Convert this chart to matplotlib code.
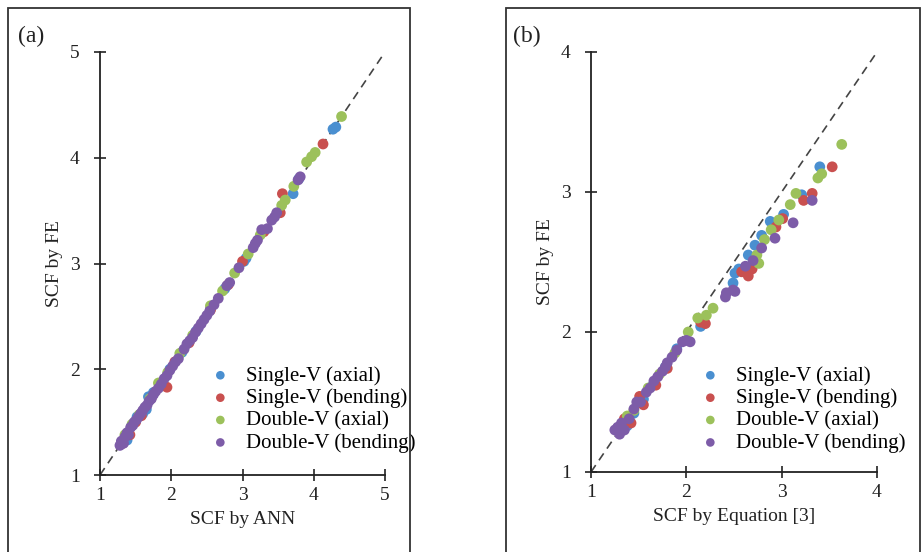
import matplotlib
matplotlib.use("Agg")
import matplotlib.pyplot as plt
from matplotlib.patches import Rectangle

plt.rcParams['font.family'] = ['Liberation Serif', 'DejaVu Serif']

series_names = ["Single-V (axial)", "Single-V (bending)", "Double-V (axial)", "Double-V (bending)"]
series_colors = ["#4a8fd0", "#c9504f", "#9cc15b", "#7d5ca8"]

# Panel (a): SCF by ANN (x) vs SCF by FE (y)
a_sv_axial_x = [1.30, 1.38, 1.45, 1.52, 1.60, 1.65, 1.68, 1.75, 1.85, 1.98, 2.15, 2.35, 2.55, 2.75, 3.02, 3.05, 3.71, 3.79, 4.27, 4.31]
a_sv_axial_y = [1.31, 1.33, 1.47, 1.55, 1.58, 1.62, 1.74, 1.78, 1.86, 2.00, 2.16, 2.36, 2.57, 2.76, 3.02, 3.05, 3.66, 3.80, 4.27, 4.29]
a_sv_bend_x = [1.32, 1.42, 1.50, 1.58, 1.72, 1.94, 2.05, 2.25, 2.55, 2.80, 3.00, 3.30, 3.53, 3.56, 4.13]
a_sv_bend_y = [1.30, 1.38, 1.50, 1.56, 1.73, 1.83, 2.07, 2.25, 2.56, 2.80, 3.02, 3.30, 3.48, 3.66, 4.13]
a_dv_axial_x = [1.35, 1.45, 1.55, 1.70, 1.82, 1.95, 2.12, 2.30, 2.55, 2.72, 2.89, 3.08, 3.25, 3.55, 3.60, 3.72, 3.90, 3.97, 4.02, 4.39]
a_dv_axial_y = [1.38, 1.48, 1.57, 1.72, 1.87, 1.97, 2.15, 2.32, 2.60, 2.74, 2.91, 3.09, 3.27, 3.55, 3.60, 3.73, 3.96, 4.01, 4.05, 4.39]
a_dv_bend_x = [1.28, 1.30, 1.33, 1.35, 1.38, 1.40, 1.43, 1.46, 1.48, 1.51, 1.54, 1.57, 1.60, 1.63, 1.66, 1.69, 1.72, 1.75,
               1.78, 1.82, 1.86, 1.90, 1.94, 1.98, 2.02, 2.06, 2.10, 2.18, 2.22, 2.26, 2.30, 2.34, 2.38, 2.42, 2.46, 2.50,
               2.54, 2.60, 2.66, 2.78, 2.82, 2.95, 3.15, 3.18, 3.21, 3.27, 3.35, 3.41, 3.45, 3.48, 3.78, 3.81]
a_dv_bend_y = [1.28, 1.32, 1.30, 1.36, 1.40, 1.38, 1.45, 1.47, 1.50, 1.52, 1.55, 1.58, 1.61, 1.64, 1.66, 1.70, 1.72, 1.76,
               1.79, 1.82, 1.86, 1.91, 1.94, 1.99, 2.03, 2.07, 2.10, 2.19, 2.24, 2.27, 2.30, 2.35, 2.39, 2.43, 2.47, 2.51,
               2.55, 2.61, 2.67, 2.79, 2.82, 2.96, 3.15, 3.19, 3.22, 3.32, 3.33, 3.41, 3.44, 3.48, 3.79, 3.82]

# Panel (b): SCF by Equation [3] (x) vs SCF by FE (y)
b_sv_axial_x = [1.30, 1.38, 1.45, 1.55, 1.65, 1.78, 1.90, 2.15, 2.49, 2.51, 2.55, 2.65, 2.72, 2.79, 2.88, 3.02, 3.21, 3.40]
b_sv_axial_y = [1.30, 1.33, 1.42, 1.52, 1.62, 1.75, 1.88, 2.04, 2.35, 2.42, 2.45, 2.55, 2.62, 2.69, 2.79, 2.84, 2.98, 3.18]
b_sv_bend_x = [1.35, 1.42, 1.51, 1.55, 1.68, 1.80, 2.15, 2.20, 2.58, 2.65, 2.69, 2.94, 3.01, 3.23, 3.32, 3.53]
b_sv_bend_y = [1.38, 1.35, 1.54, 1.48, 1.62, 1.74, 2.07, 2.06, 2.43, 2.40, 2.45, 2.75, 2.81, 2.94, 2.99, 3.18]
b_dv_axial_x = [1.38, 1.45, 1.60, 1.72, 1.88, 2.02, 2.12, 2.21, 2.28, 2.74, 2.76, 2.82, 2.89, 2.97, 3.09, 3.15, 3.38, 3.42, 3.63]
b_dv_axial_y = [1.40, 1.44, 1.60, 1.70, 1.85, 2.00, 2.10, 2.12, 2.17, 2.55, 2.49, 2.66, 2.73, 2.80, 2.91, 2.99, 3.10, 3.13, 3.34]
b_dv_bend_x = [1.25, 1.28, 1.30, 1.32, 1.35, 1.40, 1.45, 1.48, 1.52, 1.58, 1.62, 1.66, 1.70, 1.75, 1.78, 1.80, 1.85, 1.90,
               1.96, 2.00, 2.04, 2.41, 2.42, 2.49, 2.51, 2.62, 2.70, 2.79, 2.93, 3.12, 3.32]
b_dv_bend_y = [1.30, 1.32, 1.27, 1.35, 1.30, 1.38, 1.45, 1.50, 1.50, 1.57, 1.60, 1.65, 1.68, 1.72, 1.75, 1.78, 1.82, 1.87,
               1.93, 1.94, 1.93, 2.25, 2.28, 2.30, 2.29, 2.47, 2.51, 2.60, 2.67, 2.78, 2.94]

a_ticks = [1, 2, 3, 4, 5]
b_ticks = [1, 2, 3, 4]

W, H = 924, 552
fig = plt.figure(figsize=(9.24, 5.52), dpi=100)

def fx(px):
    return px / W

def fy(py):
    return 1 - py / H

# panel frames
for (l, r) in [(8, 410), (506, 920)]:
    fig.patches.append(Rectangle((fx(l), fy(H + 10)), fx(r) - fx(l), fy(8) - fy(H + 10),
                                 transform=fig.transFigure, fill=False, edgecolor="#333333", lw=1.3))

def make_panel(l, r, b, t, data, ticks, xlabel, tag, tag_xy, leg_xy):
    ax = fig.add_axes([fx(l), fy(b), fx(r) - fx(l), fy(t) - fy(b)])
    lo, hi = ticks[0], ticks[-1]
    ax.plot([lo, hi], [lo, hi], linestyle=(0, (5, 3.5)), color="#444444", lw=1.2, zorder=1)
    for (xs, ys), name, c in zip(data, series_names, series_colors):
        ax.scatter(xs, ys, s=60, color=c, edgecolors="none", label=name, zorder=2)
    ax.set_xlim(lo, hi)
    ax.set_ylim(lo, hi)
    ax.set_xticks(ticks)
    ax.set_yticks(ticks)
    ax.spines['top'].set_visible(False)
    ax.spines['right'].set_visible(False)
    for s in ['left', 'bottom']:
        ax.spines[s].set_linewidth(1.3)
        ax.spines[s].set_color("#222222")
    ax.tick_params(direction='inout', length=9, width=1.2, labelsize=14, colors="#222222")
    ax.tick_params(axis='x', pad=4)
    ax.tick_params(axis='y', pad=10)
    ax.set_xlabel(xlabel, fontsize=14, labelpad=5, color="#222222")
    ax.set_ylabel("SCF by FE", fontsize=14, labelpad=5, color="#222222")
    ax.patch.set_alpha(0)
    fig.text(fx(tag_xy[0]), fy(tag_xy[1]), tag, fontsize=17, ha='left', va='center', color="#222222")
    ax.legend(loc='upper left', bbox_to_anchor=(fx(leg_xy[0]), fy(leg_xy[1])), bbox_transform=fig.transFigure,
              frameon=False, fontsize=15, handlelength=0.8, handletextpad=0.85, labelspacing=0.13,
              borderpad=0, borderaxespad=0, markerscale=0.8)
    return ax

make_panel(100, 385, 475, 52,
           [(a_sv_axial_x, a_sv_axial_y), (a_sv_bend_x, a_sv_bend_y),
            (a_dv_axial_x, a_dv_axial_y), (a_dv_bend_x, a_dv_bend_y)],
           a_ticks, "SCF by ANN", "(a)", (18, 36), (212, 366))
make_panel(591, 877, 472, 52,
           [(b_sv_axial_x, b_sv_axial_y), (b_sv_bend_x, b_sv_bend_y),
            (b_dv_axial_x, b_dv_axial_y), (b_dv_bend_x, b_dv_bend_y)],
           b_ticks, "SCF by Equation [3]", "(b)", (513, 36), (702, 366))

fig.savefig("out.png", dpi=100)
